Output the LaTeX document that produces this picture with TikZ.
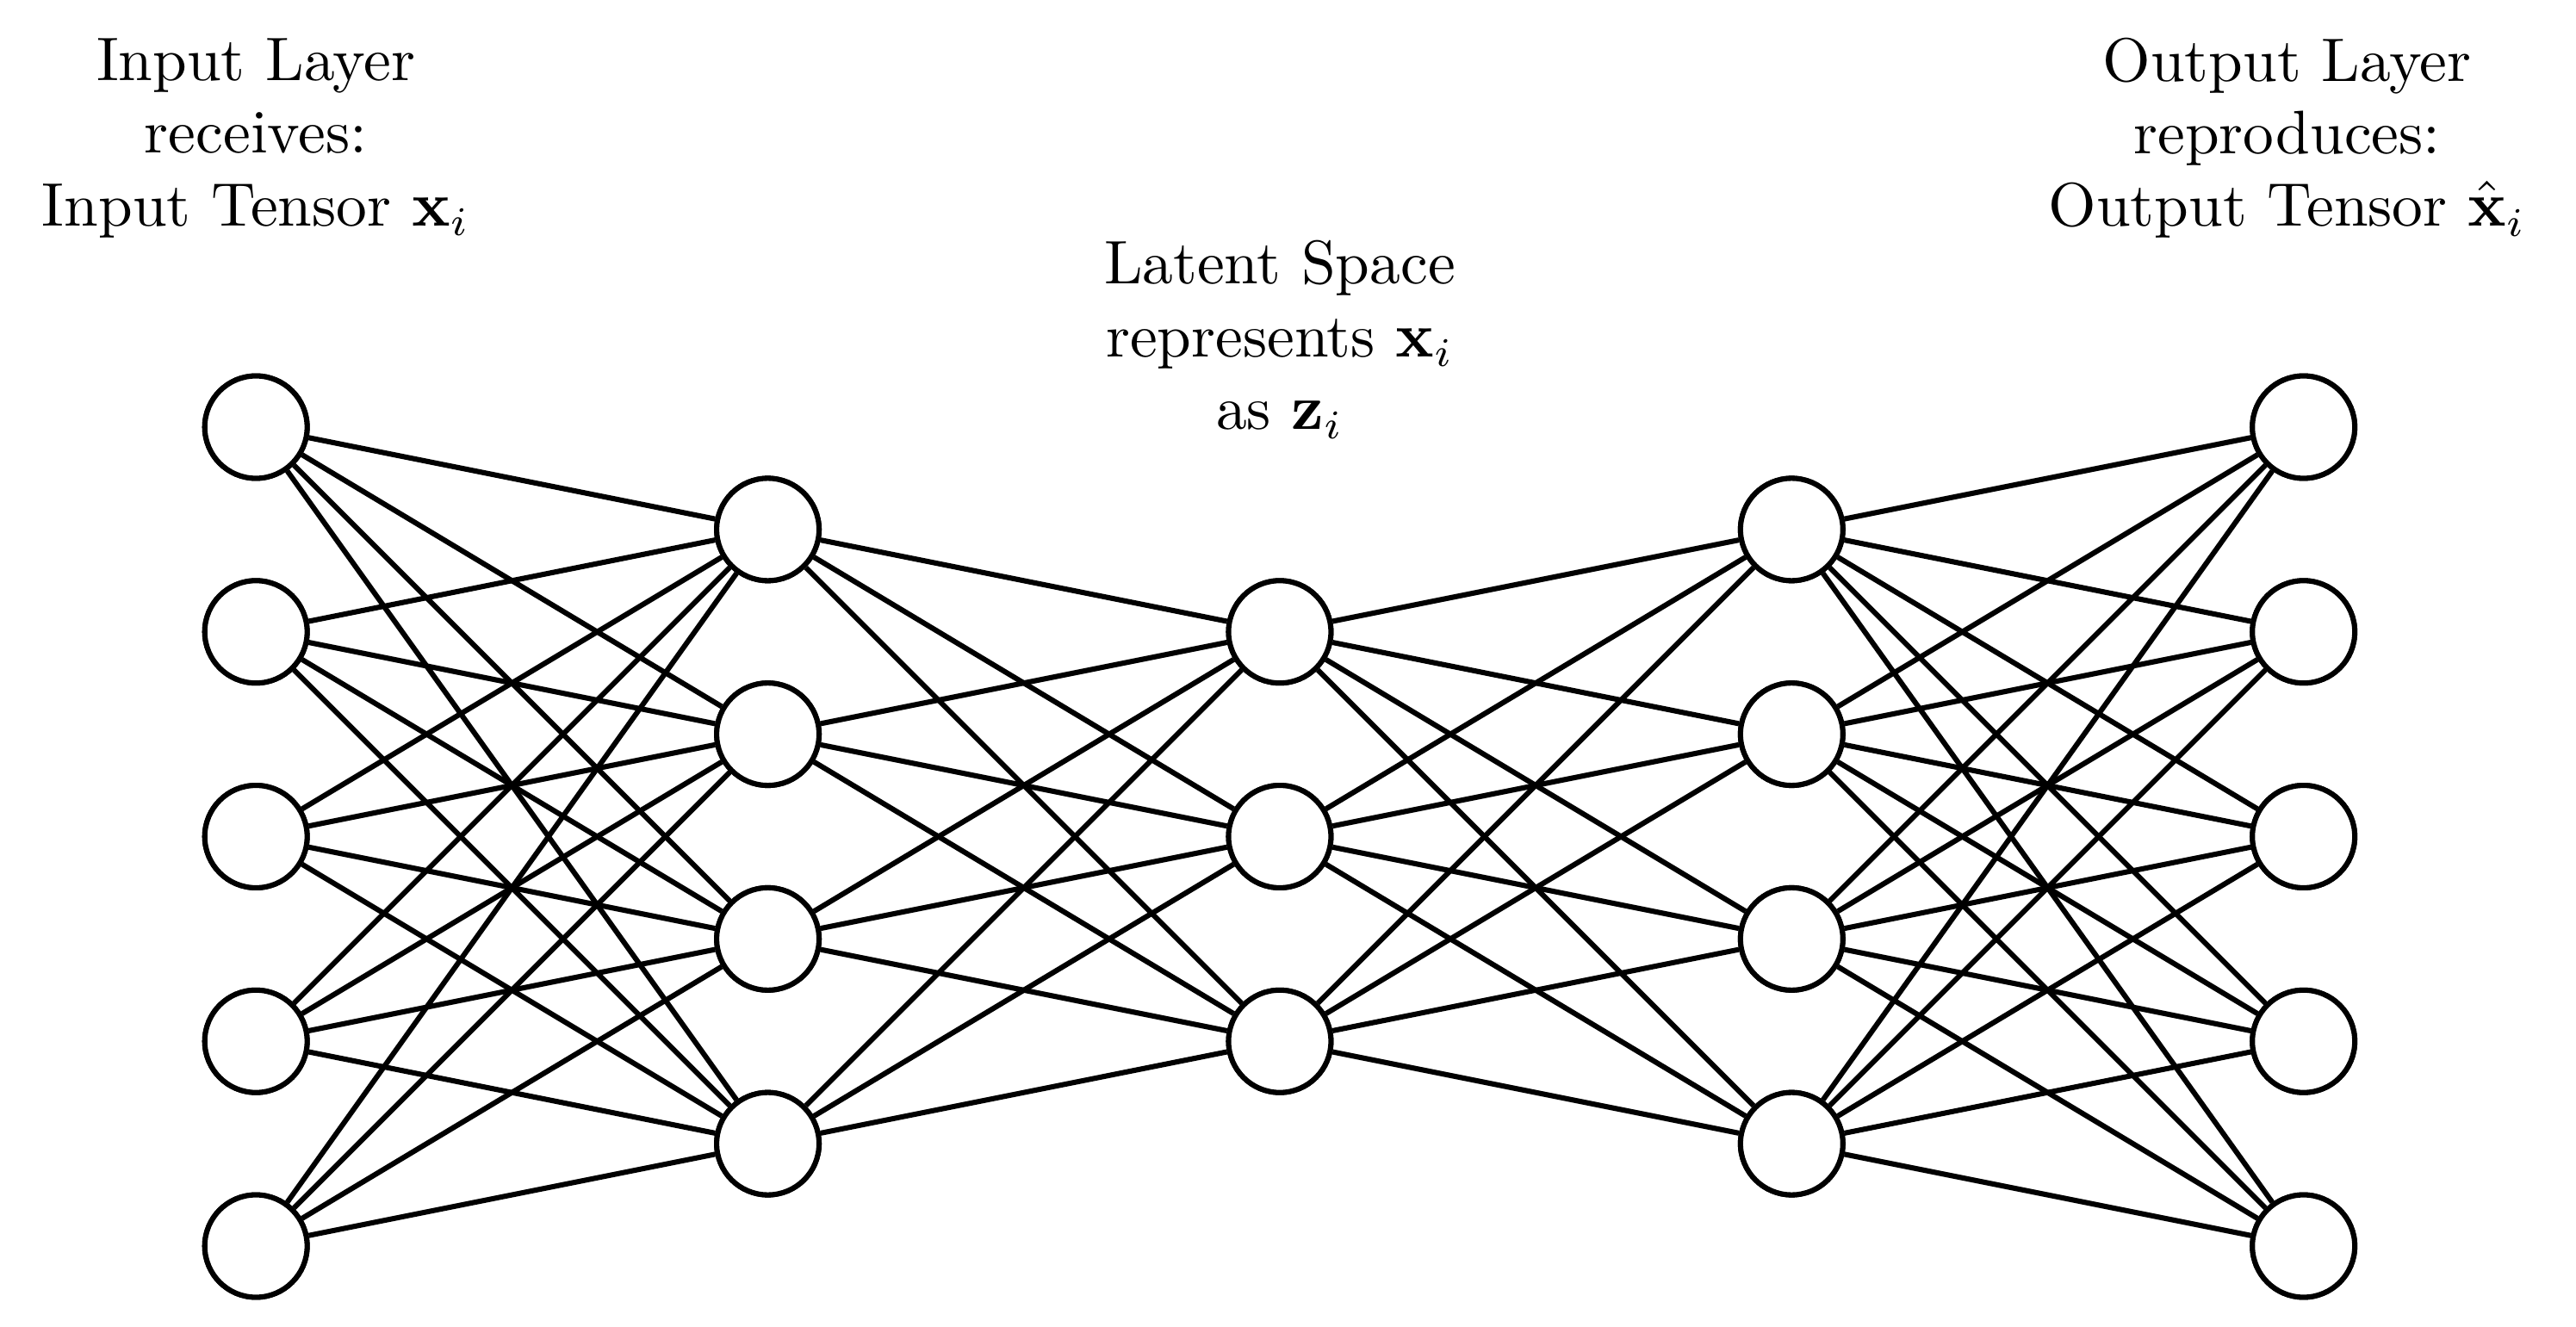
\documentclass[tikz,border=0pt]{standalone}
\usepackage{amsmath}
\begin{document}
\begin{tikzpicture}[x=1cm,y=1cm,
  neuron/.style={circle,draw,line width=0.9pt,fill=white,minimum size=0.62cm,inner sep=0pt},
  edge/.style={line width=0.9pt},
  lbl/.style={align=center,font=\fontsize{10.6}{12.5}\selectfont}]
\useasboundingbox (0,0) rectangle (15.6,8.037);
\foreach \i/\y in {1/258,2/382,3/506,4/630,5/754}
  \node[neuron] (a\i) at (1.55,{(803-\y)/100}) {};
\foreach \i/\y in {1/320,2/444,3/568,4/692}
  \node[neuron] (b\i) at (4.65,{(803-\y)/100}) {};
\foreach \i/\y in {1/382,2/506,3/630}
  \node[neuron] (c\i) at (7.75,{(803-\y)/100}) {};
\foreach \i/\y in {1/320,2/444,3/568,4/692}
  \node[neuron] (d\i) at (10.85,{(803-\y)/100}) {};
\foreach \i/\y in {1/258,2/382,3/506,4/630,5/754}
  \node[neuron] (e\i) at (13.95,{(803-\y)/100}) {};
\foreach \i in {1,...,5} \foreach \j in {1,...,4} \draw[edge] (a\i) -- (b\j);
\foreach \i in {1,...,4} \foreach \j in {1,...,3} \draw[edge] (b\i) -- (c\j);
\foreach \i in {1,...,3} \foreach \j in {1,...,4} \draw[edge] (c\i) -- (d\j);
\foreach \i in {1,...,4} \foreach \j in {1,...,5} \draw[edge] (d\i) -- (e\j);
\foreach \n in {a1,a2,a3,a4,a5,b1,b2,b3,b4,c1,c2,c3,d1,d2,d3,d4,e1,e2,e3,e4,e5}
  \node[neuron] at (\n) {};
\node[lbl] (tin) at (1.55,7.2) {Input Layer\\receives:\\Input Tensor $\mathbf{x}_i$};
\node[lbl] (tlat) at (7.75,5.98) {Latent Space\\represents $\mathbf{x}_i$\\as $\mathbf{z}_i$};
\node[lbl] (tout) at (13.85,7.2) {Output Layer\\reproduces:\\Output Tensor $\hat{\mathbf{x}}_i$};
\end{tikzpicture}
\end{document}
